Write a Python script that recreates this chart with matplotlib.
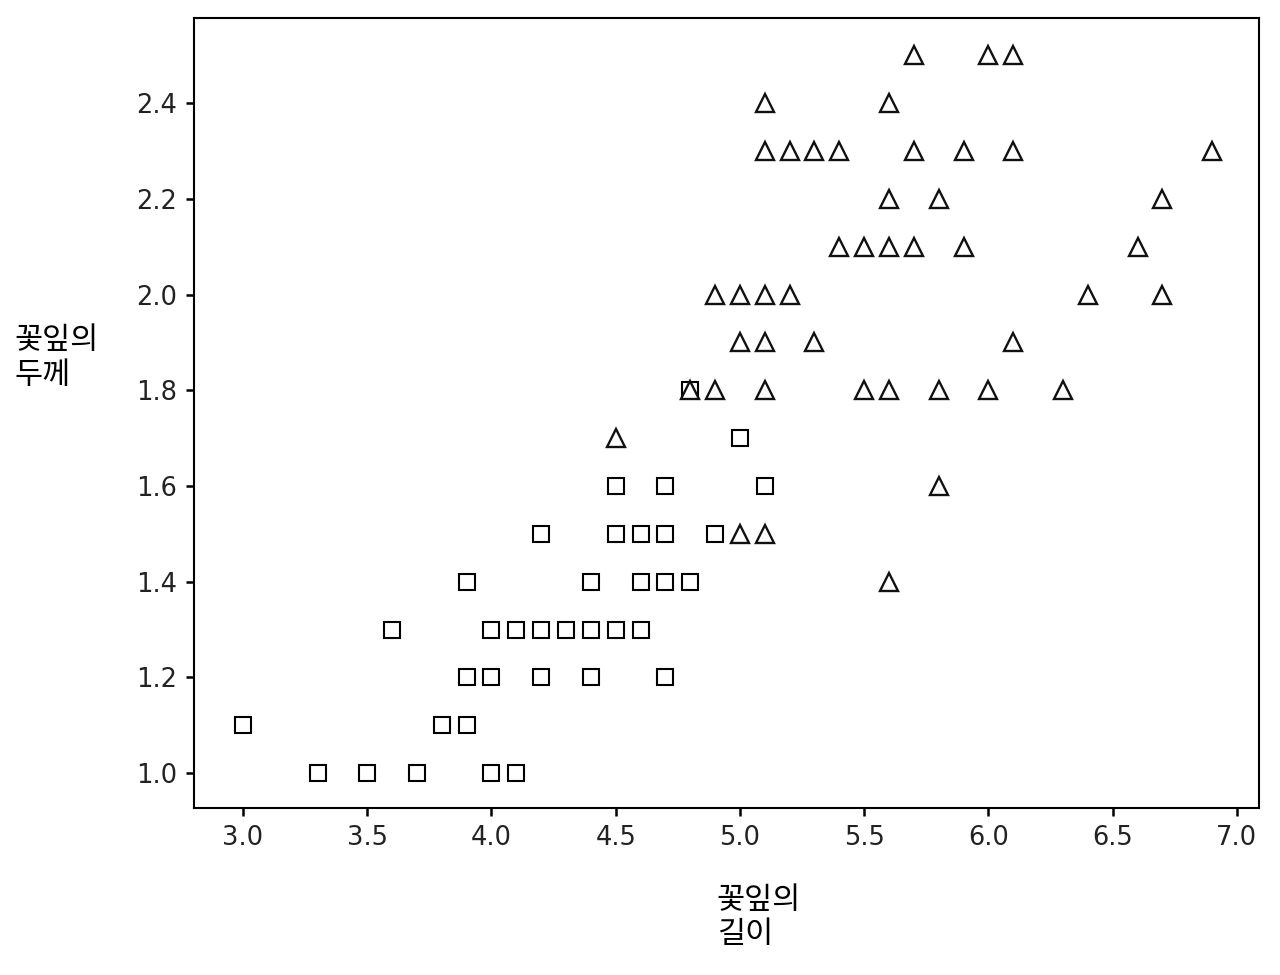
import matplotlib
matplotlib.use("Agg")
import matplotlib.pyplot as plt

plt.rcParams['font.family'] = ['DejaVu Sans', 'Noto Sans CJK KR']

# versicolor (squares)
sq_x = [3.3, 3.5, 3.7, 4.0, 4.1,
        3.0, 3.8, 3.9,
        3.9, 4.0, 4.2, 4.4, 4.7,
        3.6, 4.0, 4.1, 4.2, 4.3, 4.4, 4.5, 4.6,
        3.9, 4.4, 4.6, 4.7, 4.8,
        4.2, 4.5, 4.6, 4.7, 4.9,
        4.5, 4.7, 5.1,
        5.0,
        4.8]
sq_y = [1.0, 1.0, 1.0, 1.0, 1.0,
        1.1, 1.1, 1.1,
        1.2, 1.2, 1.2, 1.2, 1.2,
        1.3, 1.3, 1.3, 1.3, 1.3, 1.3, 1.3, 1.3,
        1.4, 1.4, 1.4, 1.4, 1.4,
        1.5, 1.5, 1.5, 1.5, 1.5,
        1.6, 1.6, 1.6,
        1.7,
        1.8]

# virginica (triangles)
tri_x = [5.6,
         5.0, 5.1,
         5.8,
         4.5,
         4.8, 4.9, 5.1, 5.5, 5.6, 5.8, 6.0, 6.3,
         5.0, 5.1, 5.3, 6.1,
         4.9, 5.0, 5.1, 5.2, 6.4, 6.7,
         5.4, 5.5, 5.6, 5.7, 5.9, 6.6,
         5.6, 5.8, 6.7,
         5.1, 5.2, 5.3, 5.4, 5.7, 5.9, 6.1, 6.9,
         5.1, 5.6,
         5.7, 6.0, 6.1]
tri_y = [1.4,
         1.5, 1.5,
         1.6,
         1.7,
         1.8, 1.8, 1.8, 1.8, 1.8, 1.8, 1.8, 1.8,
         1.9, 1.9, 1.9, 1.9,
         2.0, 2.0, 2.0, 2.0, 2.0, 2.0,
         2.1, 2.1, 2.1, 2.1, 2.1, 2.1,
         2.2, 2.2, 2.2,
         2.3, 2.3, 2.3, 2.3, 2.3, 2.3, 2.3, 2.3,
         2.4, 2.4,
         2.5, 2.5, 2.5]

x_ticks = [3.0, 3.5, 4.0, 4.5, 5.0, 5.5, 6.0, 6.5, 7.0]
y_ticks = [1.0, 1.2, 1.4, 1.6, 1.8, 2.0, 2.2, 2.4]

fig = plt.figure(figsize=(12.8, 9.75), dpi=100)
ax = fig.add_axes([0.1516, 0.1713, 0.832, 0.8102])

ax.plot(sq_x, sq_y, linestyle='none', marker='s', markersize=11.5,
        markerfacecolor='white', markeredgecolor='black', markeredgewidth=1.5)
ax.plot(tri_x, tri_y, linestyle='none', marker='^', markersize=12.5,
        markerfacecolor='white', markeredgecolor='#111111', markeredgewidth=1.7)

ax.set_xlim(2.803, 7.089)
ax.set_ylim(0.927, 2.578)
ax.set_xticks(x_ticks)
ax.set_yticks(y_ticks)
ax.set_xticklabels([f"{v:.1f}" for v in x_ticks])
ax.set_yticklabels([f"{v:.1f}" for v in y_ticks])
ax.tick_params(labelsize=18.5, length=6, width=1.8, pad=6, labelcolor='#222222')
for s in ax.spines.values():
    s.set_linewidth(1.5)

lab_font = ['Noto Sans CJK KR', 'DejaVu Sans']
fig.text(0.011, 0.633, "꽃잎의\n두께", fontsize=22, family=lab_font,
         ha='left', va='center', linespacing=1.15)
fig.text(0.560, 0.059, "꽃잎의\n길이", fontsize=22, family=lab_font,
         ha='left', va='center', linespacing=1.15)

fig.savefig("out.png", dpi=100)
